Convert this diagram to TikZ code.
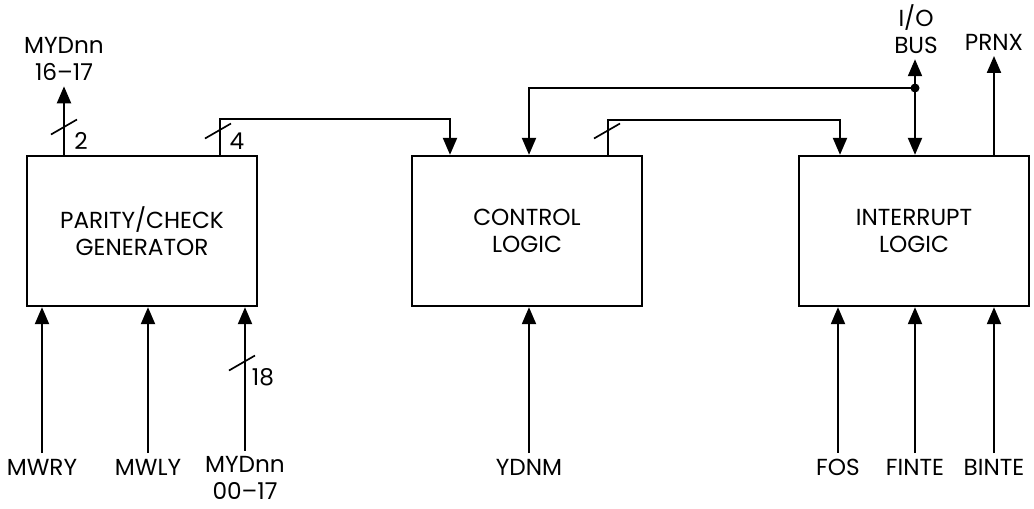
\documentclass[tikz,border=0pt]{standalone}
\usepackage{fontspec}
\setmainfont{Poppins}
\usetikzlibrary{arrows.meta,positioning}

\tikzset{
  blk/.style={draw, line width=1.7pt, minimum width=5.75cm, minimum height=3.75cm,
    align=center, inner sep=0pt},
  sig/.style={align=center, inner sep=4pt},
  wire/.style={line width=1.2pt},
}
\newcommand{\busmark}[1]{\draw[wire] (#1) ++(-13,7.5) -- ++(26,-15);}

\begin{document}
\begin{tikzpicture}[x=0.025cm, y=-0.025cm, >={Triangle[length=12pt,width=10pt]},
  every node/.style={font=\fontsize{16.5}{19}\selectfont}]
  \useasboundingbox (0,0) rectangle (1034,508);

  \node[blk] (pcg) at (142,231) {PARITY/CHECK\\GENERATOR};
  \node[blk] (ctl) at (527,231) {CONTROL\\LOGIC};
  \node[blk] (intr) at (914,231) {INTERRUPT\\LOGIC};

  % inputs from below
  \node[sig] (mwry) at (42,467) {MWRY};
  \node[sig] (mwly) at (148,467) {MWLY};
  \node[sig] (mydin) at (245,478) {MYDnn\\00--17};
  \node[sig] (ydnm) at (529,467) {YDNM};
  \node[sig] (fos) at (838,467) {FOS};
  \node[sig] (finte) at (915,467) {FINTE};
  \node[sig] (binte) at (994,467) {BINTE};
  \foreach \s in {mwry,mwly,ydnm,fos,finte,binte}
    \draw[wire,->] (\s.north) -- (\s.north |- pcg.south);
  \draw[wire,->] (mydin.north) -- (mydin.north |- pcg.south);

  % outputs on top
  \node[sig] (mydout) at (64,59) {MYDnn\\16--17};
  \draw[wire,->] (mydout.south |- pcg.north) -- (mydout.south);
  \node[sig] (iobus) at (916,29) {I/O\\BUS};
  \node[sig] (prnx) at (994,42) {PRNX};
  \draw[wire,->] (prnx.south |- intr.north) -- (prnx.south);

  % buses between the blocks
  \coordinate (b4) at (220,119);
  \coordinate (c1) at (450,0);
  \draw[wire,->] (b4 |- pcg.north) -- (b4) -| (c1 |- ctl.north);
  \coordinate (b3) at (608,120);
  \coordinate (c3) at (840,0);
  \draw[wire,->] (b3 |- ctl.north) -- (b3) -| (c3 |- intr.north);
  \coordinate (dot) at (915,88);
  \coordinate (c2) at (529,0);
  \draw[wire,<->] (iobus.south -| dot) -- (dot |- intr.north);
  \draw[wire,->] (dot) -| (c2 |- ctl.north);
  \fill (dot) circle (4.5);

  % bus widths
  \busmark{64,127}
  \node at (81,141) {2};
  \busmark{218,131}
  \node at (237,141) {4};
  \busmark{607,131}
  \busmark{242,363}
  \node at (263,377) {18};
\end{tikzpicture}
\end{document}
